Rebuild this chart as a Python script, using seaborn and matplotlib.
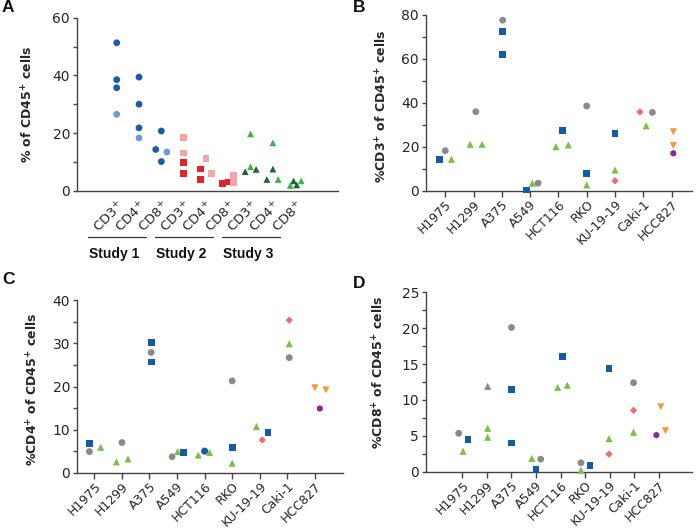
import numpy as np
import pandas as pd
import matplotlib
matplotlib.use("Agg")
import matplotlib.pyplot as plt
import matplotlib.transforms as mtransforms
from matplotlib.ticker import MultipleLocator
import seaborn as sns

sns.set_theme(style="ticks")
plt.rcParams['font.family'] = ['DejaVu Sans']
plt.rcParams['mathtext.fontset'] = 'dejavusans'

# ---- panel A data ----
markers_a = ['CD3', 'CD4', 'CD8'] * 3
studies = ['Study 1', 'Study 2', 'Study 3']
a_cat = [0, 0, 0, 0,
         1, 1, 1, 1,
         2, 2, 2, 2,
         3, 3, 3, 3,
         4, 4, 4, 4,
         5, 5, 5, 5,
         6, 6, 6, 6,
         7, 7, 7, 7,
         8, 8, 8, 8]
a_val = [51.3, 38.5, 35.7, 26.5,
         39.4, 30.0, 21.8, 18.3,
         14.3, 20.7, 10.1, 13.4,
         18.4, 13.1, 9.8, 6.0,
         7.5, 3.9, 11.3, 6.0,
         2.5, 3.0, 5.2, 2.8,
         6.6, 7.4, 19.7, 8.3,
         3.9, 7.5, 16.6, 3.9,
         1.8, 3.4, 3.4, 2.0]
a_series = ['S1 dark', 'S1 dark', 'S1 dark', 'S1 light',
            'S1 dark', 'S1 dark', 'S1 dark', 'S1 light',
            'S1 dark', 'S1 dark', 'S1 dark', 'S1 light',
            'S2 light', 'S2 light', 'S2 dark', 'S2 dark',
            'S2 dark', 'S2 dark', 'S2 light', 'S2 light',
            'S2 dark', 'S2 dark', 'S2 light', 'S2 light',
            'S3 dark', 'S3 dark', 'S3 light', 'S3 light',
            'S3 dark', 'S3 dark', 'S3 light', 'S3 light',
            'S3 light', 'S3 light', 'S3 dark', 'S3 dark']
# horizontal spread inside a category
a_off = [0, 0, 0, 0,
         0, 0, 0, 0,
         -0.25, 0, 0, 0.25,
         0, 0, 0, 0,
         -0.24, -0.24, 0, 0.24,
         -0.25, 0, 0.25, 0.25,
         -0.24, 0.25, 0, 0,
         -0.27, 0, 0, 0.24,
         -0.22, 0.27, -0.07, 0.07]

# ---- panels B-D data ----
cell_lines = ['H1975', 'H1299', 'A375', 'A549', 'HCT116', 'RKO',
              'KU-19-19', 'Caki-1', 'HCC827']

b_cat = [0, 0, 0, 1, 1, 1, 2, 2, 2, 3, 3, 3, 4, 4, 4, 5, 5, 5, 6, 6, 6, 7, 7, 7, 8, 8, 8]
b_val = [14.3, 18.2, 14.3, 21.1, 35.9, 21.1, 77.5, 72.3, 62.0,
         0.3, 3.4, 3.4, 20.0, 27.3, 20.8, 38.5, 7.9, 2.6,
         26.1, 9.4, 4.5, 35.8, 29.5, 35.6, 26.8, 20.5, 17.0]
b_series = ['blue', 'grey', 'green', 'green', 'grey', 'green', 'grey', 'blue', 'blue',
            'blue', 'green', 'grey', 'green', 'blue', 'green', 'grey', 'blue', 'green',
            'blue', 'green', 'red', 'red', 'green', 'grey', 'orange', 'orange', 'purple']
b_off = [-0.19, 0, 0.22, -0.12, 0.08, 0.3, 0.03, 0.03, 0.03,
         -0.14, 0.08, 0.28, -0.09, 0.14, 0.35, 0, 0, 0,
         0, 0, 0, -0.12, 0.1, 0.32, 0.06, 0.06, 0.06]

c_cat = [0, 0, 0, 1, 1, 1, 2, 2, 2, 3, 3, 3, 4, 4, 4, 5, 5, 5, 6, 6, 6, 7, 7, 7, 8, 8, 8]
c_val = [6.7, 4.9, 5.9, 7.0, 2.5, 3.2, 30.3, 27.9, 25.7,
         3.7, 4.9, 4.6, 4.1, 5.0, 4.7, 21.3, 5.9, 2.2,
         10.7, 7.6, 9.4, 35.4, 29.9, 26.7, 19.7, 14.9, 19.2]
c_series = ['blue', 'grey', 'green', 'grey', 'green', 'green', 'blue', 'grey', 'blue',
            'grey', 'green', 'blue', 'green', 'blue circle', 'green', 'grey', 'blue', 'green',
            'green', 'red', 'blue', 'red', 'green', 'grey', 'orange', 'purple', 'orange']
c_off = [-0.18, -0.18, 0.23, 0, -0.2, 0.22, 0.06, 0.06, 0.06,
         -0.18, 0.02, 0.24, -0.23, 0, 0.18, 0, 0, 0,
         -0.12, 0.09, 0.3, 0.07, 0.07, 0.07, 0, 0.18, 0.4]

d_cat = [0, 0, 0, 1, 1, 1, 2, 2, 2, 3, 3, 3, 4, 4, 4, 5, 5, 5, 6, 6, 6, 7, 7, 7, 8, 8, 8]
d_val = [5.35, 4.45, 2.85, 11.9, 6.05, 4.8, 20.1, 11.4, 4.0,
         1.85, 1.75, 0.3, 16.1, 11.75, 12.05, 1.25, 0.2, 0.85,
         14.4, 4.6, 2.45, 12.4, 8.55, 5.5, 9.05, 5.1, 5.7]
d_series = ['grey', 'blue', 'green', 'grey triangle', 'green', 'green', 'grey', 'blue', 'blue',
            'green', 'grey', 'blue', 'blue', 'green', 'green', 'grey', 'green', 'blue',
            'blue', 'green', 'red', 'grey', 'red', 'green', 'orange', 'purple', 'orange']
d_off = [-0.15, 0.23, 0.03, 0.03, 0.03, 0.03, 0, 0, 0,
         -0.17, 0.19, 0, 0.07, -0.12, 0.27, -0.17, -0.17, 0.2,
         -0.03, -0.03, -0.03, -0.03, -0.03, -0.03, 0.08, -0.1, 0.27]

# ---- styles ----
pal_a = {'S1 dark': '#1a5ca8', 'S1 light': '#6e9dd4',
         'S2 dark': '#e2232a', 'S2 light': '#f4a4a8',
         'S3 dark': '#1d6634', 'S3 light': '#3cb34a'}
mk_a = {'S1 dark': 'o', 'S1 light': 'o', 'S2 dark': 's', 'S2 light': 's',
        'S3 dark': '^', 'S3 light': '^'}
sz_a = {k: 24 for k in pal_a}
pal = {'grey': '#8a8a8a', 'blue': '#125ca6', 'green': '#7bbf44', 'red': '#ef6b6e',
       'orange': '#f7963c', 'purple': '#8c2a8e', 'blue circle': '#125ca6',
       'grey triangle': '#8a8a8a'}
mk = {'grey': 'o', 'blue': 's', 'green': '^', 'red': 'D', 'orange': 'v',
      'purple': 'h', 'blue circle': 'o', 'grey triangle': '^'}
sz = {'grey': 24, 'blue': 24, 'green': 26, 'red': 14, 'orange': 26,
      'purple': 24, 'blue circle': 26, 'grey triangle': 26}

W, H = 698, 532
fig = plt.figure(figsize=(W / 100, H / 100), dpi=100)


def box(l, r, t, b):
    return [l / W, (H - b) / H, (r - l) / W, (b - t) / H]


def style_axes(ax):
    sns.despine(ax=ax)
    for s in ['left', 'bottom']:
        ax.spines[s].set_color('#444444')
        ax.spines[s].set_linewidth(1.0)
    ax.tick_params(axis='both', which='both', direction='out', color='#444444',
                   width=1.0, labelcolor='#262626')
    ax.tick_params(axis='y', which='both', length=3, pad=2, labelsize=10)
    ax.tick_params(axis='x', which='both', length=4, pad=1, labelsize=9)


def scatter(ax, cats, vals, series, offs, palette, markers, sizes):
    df = pd.DataFrame({'x': np.array(cats) + np.array(offs), 'y': vals, 's': series})
    sns.scatterplot(data=df, x='x', y='y', hue='s', style='s', size='s',
                    palette=palette, markers=markers, sizes=sizes, linewidth=0,
                    legend=False, ax=ax, clip_on=False, zorder=3)
    ax.set_xlabel('')


# ---- A ----
axA = fig.add_axes(box(77, 338, 17.7, 190.7))
scatter(axA, a_cat, a_val, a_series, a_off, pal_a, mk_a, sz_a)
axA.set_xlim(-1.78, 9.92)
axA.set_ylim(0, 60)
axA.yaxis.set_major_locator(MultipleLocator(20))
axA.yaxis.set_minor_locator(MultipleLocator(10))
axA.set_xticks(range(len(markers_a)))
axA.set_xticklabels([m + r'$^{+}$' for m in markers_a], rotation=45, ha='right',
                    rotation_mode='anchor')
style_axes(axA)
axA.tick_params(axis='x', length=0, pad=6, labelsize=9.5)
axA.set_ylabel(r'% of CD45$^{\mathbf{+}}$ cells', fontsize=9, fontweight='bold')
axA.yaxis.set_label_coords(-0.157, 0.5)
trans = mtransforms.blended_transform_factory(axA.transData, axA.transAxes)
for i, st in enumerate(studies):
    c = 3 * i
    axA.plot([c - 1.3, c + 1.3], [-0.266, -0.266], color='#333333', lw=0.9,
             transform=trans, clip_on=False)
    axA.text(c - 1.25, -0.365, st, transform=trans, fontsize=10, fontweight='bold',
             family='Liberation Sans', ha='left', va='center', color='#111111')

# ---- B, C, D ----
panels = [
    ('B', box(426, 692, 14.7, 190.7), b_cat, b_val, b_series, b_off, (-0.68, 8.72),
     80, 20, 10, r'%CD3$^{\mathbf{+}}$ of CD45$^{\mathbf{+}}$ cells', (-0.136, 0.48)),
    ('C', box(77, 343, 300.3, 472.7), c_cat, c_val, c_series, c_off, (-0.63, 9.02),
     40, 10, 5, r'%CD4$^{\mathbf{+}}$ of CD45$^{\mathbf{+}}$ cells', (-0.135, 0.484)),
    ('D', box(426, 692, 292.3, 471.7), d_cat, d_val, d_series, d_off, (-1.48, 9.35),
     25, 5, 2.5, r'%CD8$^{\mathbf{+}}$ of CD45$^{\mathbf{+}}$ cells', (-0.147, 0.553)),
]
for name, rect, cats, vals, ser, offs, xl, ymax, maj, mnr, ylab, lc in panels:
    ax = fig.add_axes(rect)
    scatter(ax, cats, vals, ser, offs, pal, mk, sz)
    ax.set_xlim(*xl)
    ax.set_ylim(0, ymax)
    ax.yaxis.set_major_locator(MultipleLocator(maj))
    ax.yaxis.set_minor_locator(MultipleLocator(mnr))
    ax.set_xticks(range(len(cell_lines)))
    ax.set_xticklabels(cell_lines, rotation=45, ha='right', rotation_mode='anchor')
    style_axes(ax)
    ax.set_ylabel(ylab, fontsize=9, fontweight='bold')
    ax.yaxis.set_label_coords(*lc)

# panel letters
for letter, (px, py) in zip('ABCD', [(2, 8), (353, 8), (2, 280), (353, 283)]):
    fig.text(px / W, 1 - py / H, letter, fontsize=12.5, fontweight='bold',
             family='Liberation Sans', ha='left', va='center', color='#111111')

fig.savefig('out.png', dpi=100)
